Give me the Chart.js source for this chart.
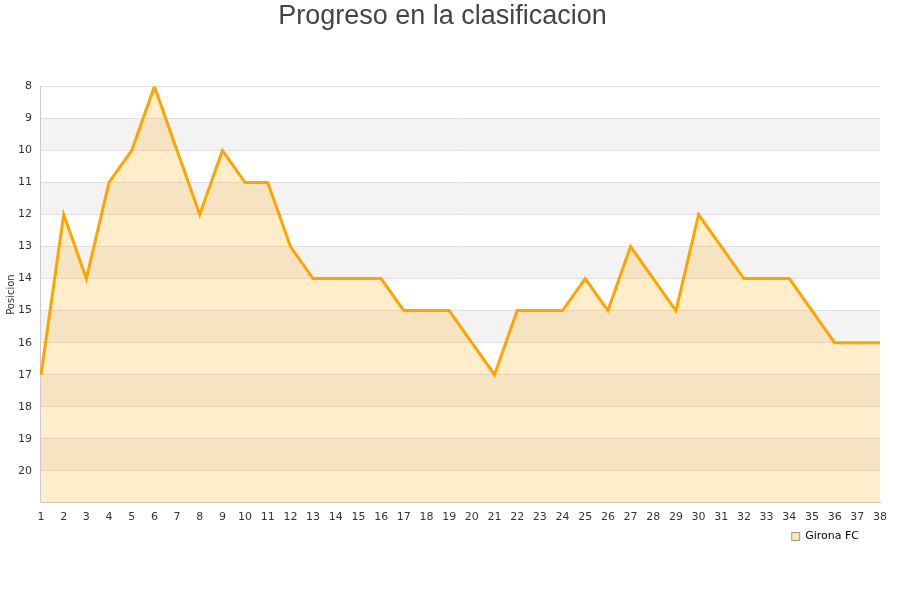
<!DOCTYPE html>
<html>
<head>
<meta charset="utf-8">
<script src="https://cdn.jsdelivr.net/npm/chart.js@4/dist/chart.umd.min.js"></script>
<style>
  html, body { margin: 0; padding: 0; background: #fff; }
  #wrap { width: 900px; height: 600px; }
</style>
</head>
<body>
<div id="wrap"><canvas id="chart"></canvas></div>
<script>
var jornadas = [];
for (var i = 1; i <= 38; i++) jornadas.push(String(i));

var posiciones = [17, 12, 14, 11, 10, 8, 10, 12, 10, 11, 11, 13, 14, 14, 14, 14, 15, 15, 15, 16,
                  17, 15, 15, 15, 14, 15, 13, 14, 15, 12, 13, 14, 14, 14, 15, 16, 16, 16];

var yMin = 8, yMax = 21;

// alternate grey bands behind the plot
var bands = {
  id: 'bands',
  beforeDraw: function(chart) {
    var ctx = chart.ctx, area = chart.chartArea, y = chart.scales.y;
    ctx.save();
    for (var v = yMin + 1; v < yMax; v += 2) {
      var top = y.getPixelForValue(v), bottom = y.getPixelForValue(v + 1);
      ctx.fillStyle = '#f3f3f3';
      ctx.fillRect(area.left, top, area.right - area.left, bottom - top);
    }
    ctx.restore();
  }
};

new Chart(document.getElementById('chart'), {
  type: 'line',
  data: {
    labels: jornadas,
    datasets: [{
      label: 'Girona FC',
      data: posiciones,
      borderColor: '#ffa500',
      backgroundColor: 'rgba(255,165,0,0.2)',
      borderWidth: 3,
      pointRadius: 0,
      tension: 0,
      fill: { value: yMax }
    }]
  },
  options: {
    responsive: true,
    maintainAspectRatio: false,
    animation: false,
    layout: { padding: { left: 5, right: 20, top: 0, bottom: 48 } },
    plugins: {
      title: {
        display: true,
        text: 'Progreso en la clasificacion',
        color: '#444',
        font: { family: 'Liberation Sans, Arial, sans-serif', size: 27, weight: 'normal' },
        padding: { top: 0, bottom: 54 }
      },
      legend: {
        position: 'bottom',
        align: 'end',
        labels: {
          color: '#222',
          font: { family: 'DejaVu Sans', size: 11 },
          boxWidth: 8,
          boxHeight: 8,
          padding: 7,
          generateLabels: function(chart) {
            return [{
              text: 'Girona FC    ',
              fillStyle: 'rgba(255,230,180,1)',
              strokeStyle: '#999',
              lineWidth: 1,
              datasetIndex: 0
            }];
          }
        }
      },
      tooltip: { enabled: false }
    },
    scales: {
      x: {
        offset: false,
        grid: { display: false },
        border: { color: '#ccc' },
        ticks: { color: '#333', font: { family: 'DejaVu Sans', size: 11 }, maxRotation: 0, autoSkip: false, padding: 0 }
      },
      y: {
        reverse: true,
        min: yMin,
        max: yMax,
        grid: { color: '#e0e0e0', drawTicks: false },
        border: { color: '#ccc' },
        title: { display: true, text: 'Posicion', color: '#333', font: { family: 'DejaVu Sans', size: 10 }, padding: { top: 0, bottom: -8 } },
        ticks: {
          stepSize: 1,
          color: '#333',
          padding: 9,
          font: { family: 'DejaVu Sans', size: 11 },
          callback: function(v) { return v === yMax ? '' : v; }
        }
      }
    }
  },
  plugins: [bands]
});
</script>
</body>
</html>
